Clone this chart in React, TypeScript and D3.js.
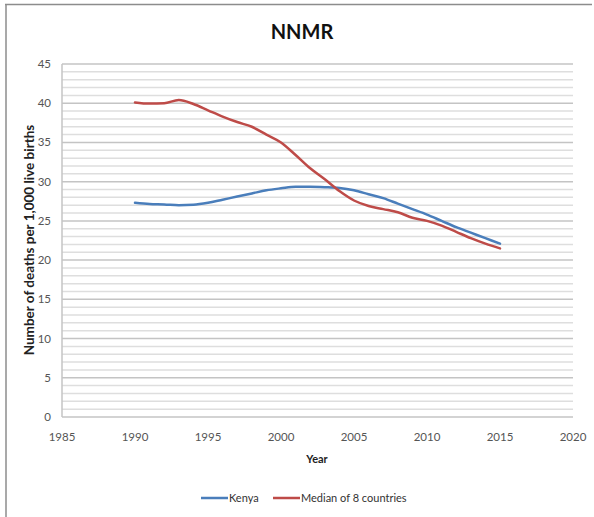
import React from "react";
import * as d3 from "d3";

const years = [1990,1991,1992,1993,1994,1995,1996,1997,1998,1999,2000,2001,2002,2003,2004,2005,2006,2007,2008,2009,2010,2011,2012,2013,2014,2015];
const kenya = [27.3,27.15,27.1,27.0,27.05,27.3,27.7,28.1,28.5,28.9,29.15,29.35,29.35,29.3,29.2,28.9,28.4,27.9,27.2,26.5,25.8,25.0,24.2,23.5,22.8,22.1];
const median = [40.1,39.95,40.0,40.4,39.9,39.1,38.3,37.6,37.0,36.0,35.0,33.4,31.7,30.3,28.8,27.6,26.9,26.5,26.1,25.4,25.0,24.4,23.6,22.8,22.1,21.5];
const xTicks = [1985,1990,1995,2000,2005,2010,2015,2020];
const yTicks = [0,5,10,15,20,25,30,35,40,45];
const seriesNames = ["Kenya", "Median of 8 countries"];
const seriesColors = ["#4a7ebb", "#be4b48"];

const W = 594, H = 517;
const left = 62, right = 573, top = 64, bottom = 417;
const font = "Lato, 'Open Sans', sans-serif";

export default function App() {
  const x = d3.scaleLinear().domain([1985, 2020]).range([left, right]);
  const y = d3.scaleLinear().domain([0, 45]).range([bottom, top]);
  const line = d3.line<number>()
    .x((_, i) => x(years[i]))
    .y((d) => y(d))
    .curve(d3.curveMonotoneX);
  const minor = d3.range(1, 46).filter((v) => v % 5 !== 0);
  const data = [kenya, median];

  return (
    <svg width={W} height={H} style={{ position: "absolute", left: 0, top: 0, background: "#fff" }}>
      <line x1={5} x2={592} y1={4.5} y2={4.5} stroke="#8c8c8c" strokeWidth={1.5} />
      <line x1={6} x2={6} y1={4} y2={517} stroke="#8c8c8c" strokeWidth={1.5} />
      <text x={302} y={39} textAnchor="middle" fontFamily={font} fontWeight="bold" fontSize={20} fill="#111">NNMR</text>
      {minor.map((v) => (
        <line key={"m" + v} x1={left} x2={right} y1={y(v)} y2={y(v)} stroke="#dedede" strokeWidth={1.5} />
      ))}
      {yTicks.map((v) => (
        <line key={"M" + v} x1={left} x2={right} y1={y(v)} y2={y(v)} stroke="#c4c4c4" strokeWidth={1.5} />
      ))}
      <line x1={left} x2={left} y1={top} y2={bottom} stroke="#c4c4c4" strokeWidth={1.5} />
      {yTicks.map((v) => (
        <text key={"yt" + v} x={51} y={y(v) + 4} textAnchor="end" fontFamily={font} fontSize={11.5} fill="#555">{v}</text>
      ))}
      {xTicks.map((v) => (
        <text key={"xt" + v} x={x(v)} y={441} textAnchor="middle" fontFamily={font} fontSize={11.5} fill="#555">{v}</text>
      ))}
      <text x={317} y={463} textAnchor="middle" fontFamily={font} fontWeight="bold" fontSize={11} fill="#222">Year</text>
      <text transform={`translate(34,240) rotate(-90)`} textAnchor="middle" fontFamily={font} fontWeight="bold" fontSize={13.5} fill="#222">Number of deaths per 1,000 live births</text>
      {data.map((s, i) => (
        <path key={"s" + i} d={line(s) || ""} fill="none" stroke={seriesColors[i]} strokeWidth={2.5} strokeLinecap="round" />
      ))}
      <line x1={201} x2={228} y1={498} y2={498} stroke={seriesColors[0]} strokeWidth={2.5} />
      <text x={229} y={502} fontFamily={font} fontSize={11} fill="#333">{seriesNames[0]}</text>
      <line x1={273} x2={300} y1={498} y2={498} stroke={seriesColors[1]} strokeWidth={2.5} />
      <text x={301} y={502} fontFamily={font} fontSize={11} fill="#333">{seriesNames[1]}</text>
    </svg>
  );
}
